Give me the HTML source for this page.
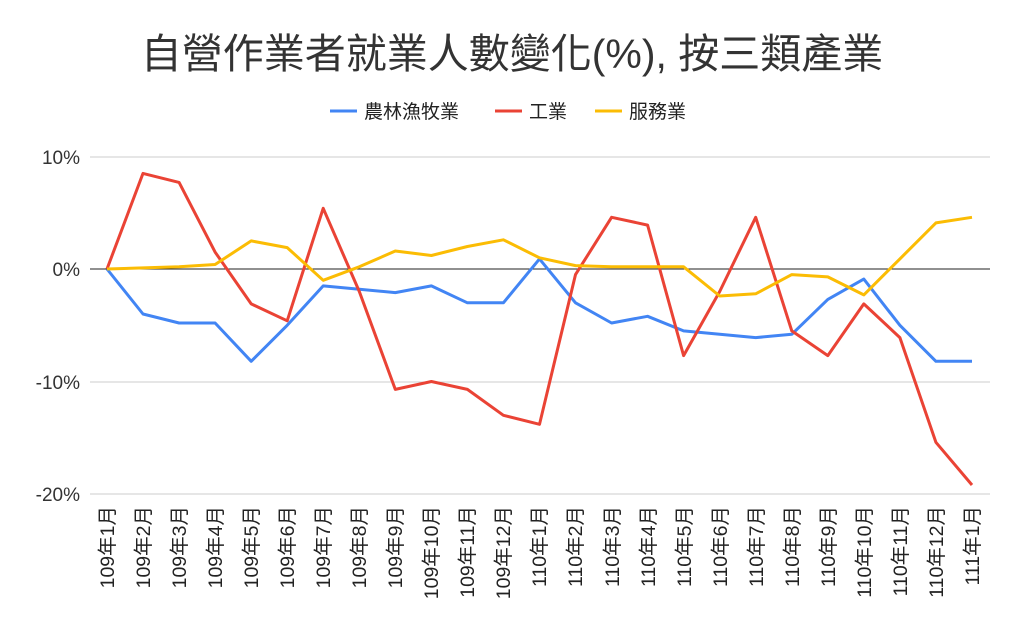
<!DOCTYPE html>
<html><head><meta charset="utf-8"><style>
body{margin:0;background:#fff;}
svg text{font-family:"Liberation Sans","Noto Sans CJK TC",sans-serif;}
</style></head><body>
<svg width="1024" height="632" xmlns="http://www.w3.org/2000/svg">
<rect width="1024" height="632" fill="#fff"/>
<text x="512" y="68" font-size="41" fill="#333" text-anchor="middle">自營作業者就業人數變化(%), 按三類產業</text>
<g font-size="19" fill="#222">
<line x1="330" y1="111" x2="357" y2="111" stroke="#4285f4" stroke-width="3"/>
<text x="364" y="118">農林漁牧業</text>
<line x1="495" y1="111" x2="522" y2="111" stroke="#ea4335" stroke-width="3"/>
<text x="529" y="118">工業</text>
<line x1="595" y1="111" x2="622" y2="111" stroke="#fbbc04" stroke-width="3"/>
<text x="629" y="118">服務業</text>
</g>
<g stroke="#ccc" stroke-width="1">
<line x1="90" y1="157" x2="990" y2="157"/>
<line x1="90" y1="382" x2="990" y2="382"/>
<line x1="90" y1="494" x2="990" y2="494"/>
</g>
<line x1="90" y1="269" x2="990" y2="269" stroke="#222" stroke-width="1"/>
<g font-size="19" fill="#333" text-anchor="end">
<text x="80" y="164">10%</text>
<text x="80" y="276">0%</text>
<text x="80" y="389">-10%</text>
<text x="80" y="501">-20%</text>
</g>
<g font-size="19.5" fill="#222" text-anchor="end">
<text transform="translate(114,506) rotate(-90)">109年1月</text>
<text transform="translate(150,506) rotate(-90)">109年2月</text>
<text transform="translate(186,506) rotate(-90)">109年3月</text>
<text transform="translate(222,506) rotate(-90)">109年4月</text>
<text transform="translate(258,506) rotate(-90)">109年5月</text>
<text transform="translate(294,506) rotate(-90)">109年6月</text>
<text transform="translate(330,506) rotate(-90)">109年7月</text>
<text transform="translate(366,506) rotate(-90)">109年8月</text>
<text transform="translate(402,506) rotate(-90)">109年9月</text>
<text transform="translate(438,506) rotate(-90)">109年10月</text>
<text transform="translate(474,506) rotate(-90)">109年11月</text>
<text transform="translate(510,506) rotate(-90)">109年12月</text>
<text transform="translate(546,506) rotate(-90)">110年1月</text>
<text transform="translate(582,506) rotate(-90)">110年2月</text>
<text transform="translate(619,506) rotate(-90)">110年3月</text>
<text transform="translate(655,506) rotate(-90)">110年4月</text>
<text transform="translate(691,506) rotate(-90)">110年5月</text>
<text transform="translate(727,506) rotate(-90)">110年6月</text>
<text transform="translate(763,506) rotate(-90)">110年7月</text>
<text transform="translate(799,506) rotate(-90)">110年8月</text>
<text transform="translate(835,506) rotate(-90)">110年9月</text>
<text transform="translate(871,506) rotate(-90)">110年10月</text>
<text transform="translate(907,506) rotate(-90)">110年11月</text>
<text transform="translate(943,506) rotate(-90)">110年12月</text>
<text transform="translate(979,506) rotate(-90)">111年1月</text>
</g>
<polyline id="b" fill="none" stroke="#4285f4" stroke-width="3" stroke-linejoin="round"/>
<polyline id="r" fill="none" stroke="#ea4335" stroke-width="3" stroke-linejoin="round"/>
<polyline id="y" fill="none" stroke="#fbbc04" stroke-width="3" stroke-linejoin="round"/>
<script>
var B=[0,-4,-4.8,-4.8,-8.2,-5,-1.5,-1.8,-2.1,-1.5,-3,-3,0.9,-3,-4.8,-4.2,-5.5,-5.8,-6.1,-5.8,-2.7,-0.9,-5,-8.2,-8.2];
var R=[0,8.5,7.7,1.5,-3.1,-4.6,5.4,-2,-10.7,-10,-10.7,-13,-13.8,-0.5,4.6,3.9,-7.7,-2,4.6,-5.5,-7.7,-3.1,-6.1,-15.4,-19.2];
var Y=[0,0.1,0.2,0.4,2.5,1.9,-1,0.2,1.6,1.2,2,2.6,1,0.3,0.2,0.2,0.2,-2.4,-2.2,-0.5,-0.7,-2.3,0.9,4.1,4.6];
function X(i){return 107+i*36.04;}
function pts(a){return a.map(function(v,i){return X(i).toFixed(1)+","+(269-v*11.25).toFixed(1);}).join(" ");}
document.getElementById("b").setAttribute("points",pts(B));
document.getElementById("r").setAttribute("points",pts(R));
document.getElementById("y").setAttribute("points",pts(Y));
</script>
</svg>
</body></html>
